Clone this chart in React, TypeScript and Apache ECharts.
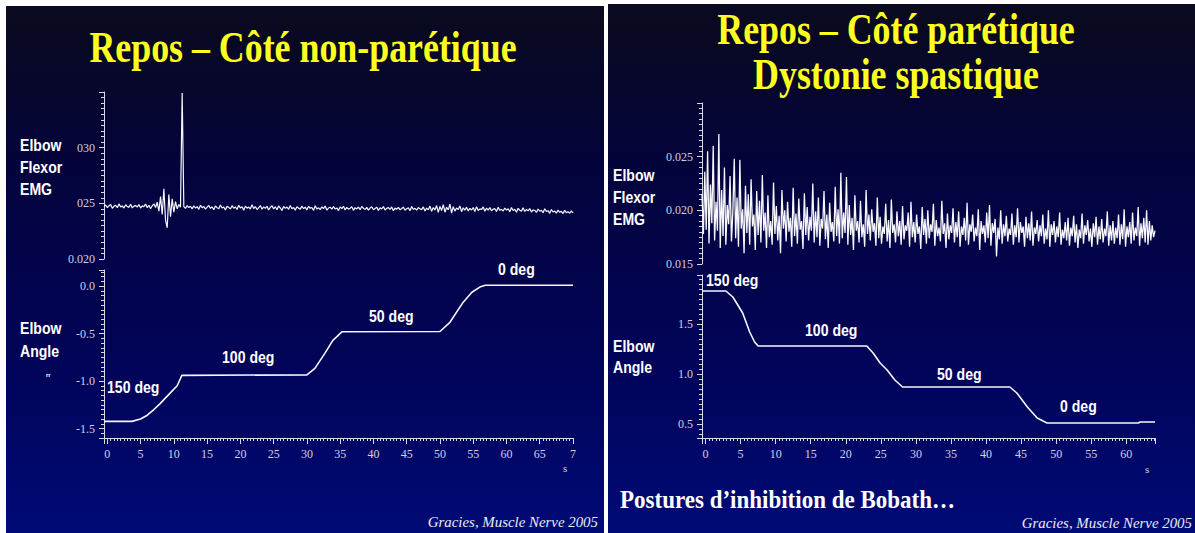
import React, { useEffect, useRef } from 'react';
import * as echarts from 'echarts';

// ---------- DATA ----------
const T0 = -0.5; // time of first EMG sample (s)
const EMG_LEFT_STEP = 0.25; // s between samples
const emgLeft = [
  0.02470, 0.02485, 0.02462, 0.02478, 0.02490, 0.02455, 0.02473, 0.02482, 0.02460, 0.02495, 0.02468, 0.02476, 0.02458, 0.02488, 0.02471, 0.02464, 0.02492, 0.02459, 0.02475, 0.02480,
  0.02466, 0.02489, 0.02457, 0.02477, 0.02470, 0.02494, 0.02461, 0.02483, 0.02452, 0.02478, 0.02496, 0.02463, 0.02510, 0.02430, 0.02560, 0.02400, 0.02630, 0.02350, 0.02280, 0.02580,
  0.02380, 0.02540, 0.02420, 0.02515, 0.02450, 0.02490, 0.02465, 0.03490, 0.02470, 0.02455, 0.02480, 0.02462, 0.02474, 0.02450, 0.02478, 0.02458, 0.02470, 0.02446, 0.02482, 0.02460,
  0.02472, 0.02448, 0.02466, 0.02480, 0.02455, 0.02469, 0.02442, 0.02476, 0.02461, 0.02452, 0.02485, 0.02458, 0.02467, 0.02440, 0.02474, 0.02463, 0.02450, 0.02479, 0.02456, 0.02468,
  0.02445, 0.02482, 0.02459, 0.02470, 0.02438, 0.02475, 0.02457, 0.02466, 0.02449, 0.02488, 0.02453, 0.02471, 0.02444, 0.02462, 0.02480, 0.02447, 0.02468, 0.02455, 0.02473, 0.02441,
  0.02464, 0.02478, 0.02450, 0.02469, 0.02443, 0.02476, 0.02458, 0.02436, 0.02472, 0.02455, 0.02467, 0.02446, 0.02481, 0.02452, 0.02463, 0.02439, 0.02470, 0.02457, 0.02448, 0.02475,
  0.02451, 0.02466, 0.02440, 0.02473, 0.02456, 0.02462, 0.02437, 0.02478, 0.02449, 0.02460, 0.02444, 0.02469, 0.02453, 0.02476, 0.02438, 0.02458, 0.02465, 0.02447, 0.02471, 0.02450,
  0.02459, 0.02435, 0.02468, 0.02452, 0.02474, 0.02441, 0.02463, 0.02448, 0.02456, 0.02470, 0.02437, 0.02461, 0.02450, 0.02467, 0.02443, 0.02472, 0.02454, 0.02446, 0.02464, 0.02439,
  0.02458, 0.02469, 0.02442, 0.02453, 0.02466, 0.02436, 0.02460, 0.02449, 0.02471, 0.02440, 0.02455, 0.02462, 0.02445, 0.02468, 0.02434, 0.02457, 0.02448, 0.02463, 0.02441, 0.02454,
  0.02466, 0.02438, 0.02452, 0.02460, 0.02433, 0.02471, 0.02446, 0.02455, 0.02439, 0.02463, 0.02450, 0.02444, 0.02468, 0.02431, 0.02457, 0.02442, 0.02475, 0.02428, 0.02462, 0.02440,
  0.02480, 0.02418, 0.02472, 0.02435, 0.02488, 0.02420, 0.02465, 0.02441, 0.02492, 0.02412, 0.02470, 0.02430, 0.02458, 0.02445, 0.02476, 0.02425, 0.02460, 0.02438, 0.02466, 0.02432,
  0.02455, 0.02440, 0.02463, 0.02427, 0.02470, 0.02436, 0.02450, 0.02444, 0.02468, 0.02429, 0.02457, 0.02439, 0.02462, 0.02433, 0.02448, 0.02452, 0.02426, 0.02465, 0.02437, 0.02446,
  0.02431, 0.02458, 0.02440, 0.02452, 0.02424, 0.02463, 0.02435, 0.02447, 0.02420, 0.02455, 0.02438, 0.02430, 0.02460, 0.02427, 0.02444, 0.02433, 0.02453, 0.02422, 0.02441, 0.02436,
  0.02418, 0.02449, 0.02429, 0.02438, 0.02415, 0.02452, 0.02426, 0.02434, 0.02410, 0.02445, 0.02422, 0.02431, 0.02412, 0.02440, 0.02419, 0.02428, 0.02408, 0.02437, 0.02416, 0.02425,
  0.02411, 0.02432, 0.02414,
];

const EMG_RIGHT_STEP = 0.2;
const emgRight = [
  0.0215, 0.0178, 0.0236, 0.0182, 0.0255, 0.0169, 0.0224, 0.0188, 0.0260, 0.0172, 0.0208, 0.0181, 0.0271, 0.0165, 0.0219, 0.0176, 0.0240, 0.0168, 0.0205, 0.0187,
  0.0232, 0.0171, 0.0199, 0.0248, 0.0174, 0.0212, 0.0166, 0.0247, 0.0183, 0.0201, 0.0160, 0.0223, 0.0179, 0.0215, 0.0168, 0.0229, 0.0185, 0.0196, 0.0163, 0.0218,
  0.0177, 0.0209, 0.0170, 0.0233, 0.0181, 0.0198, 0.0165, 0.0214, 0.0175, 0.0190, 0.0168, 0.0226, 0.0178, 0.0204, 0.0172, 0.0195, 0.0160, 0.0219, 0.0183, 0.0200,
  0.0171, 0.0208, 0.0180, 0.0193, 0.0166, 0.0221, 0.0176, 0.0197, 0.0169, 0.0211, 0.0182, 0.0190, 0.0164, 0.0216, 0.0177, 0.0203, 0.0172, 0.0194, 0.0181, 0.0225,
  0.0170, 0.0199, 0.0175, 0.0212, 0.0167, 0.0192, 0.0183, 0.0218, 0.0173, 0.0196, 0.0165, 0.0207, 0.0180, 0.0189, 0.0171, 0.0222, 0.0176, 0.0201, 0.0169, 0.0235,
  0.0174, 0.0198, 0.0179, 0.0231, 0.0168, 0.0205, 0.0177, 0.0193, 0.0163, 0.0214, 0.0181, 0.0190, 0.0170, 0.0209, 0.0175, 0.0187, 0.0166, 0.0219, 0.0178, 0.0196,
  0.0172, 0.0201, 0.0180, 0.0188, 0.0167, 0.0212, 0.0174, 0.0194, 0.0169, 0.0185, 0.0178, 0.0206, 0.0171, 0.0191, 0.0165, 0.0210, 0.0179, 0.0187, 0.0170, 0.0199,
  0.0176, 0.0190, 0.0168, 0.0204, 0.0173, 0.0186, 0.0181, 0.0198, 0.0166, 0.0208, 0.0175, 0.0189, 0.0170, 0.0196, 0.0178, 0.0185, 0.0164, 0.0203, 0.0177, 0.0192,
  0.0169, 0.0200, 0.0174, 0.0187, 0.0180, 0.0206, 0.0167, 0.0191, 0.0176, 0.0184, 0.0171, 0.0209, 0.0178, 0.0188, 0.0165, 0.0197, 0.0173, 0.0186, 0.0179, 0.0202,
  0.0170, 0.0189, 0.0175, 0.0199, 0.0166, 0.0185, 0.0177, 0.0193, 0.0172, 0.0207, 0.0168, 0.0187, 0.0180, 0.0196, 0.0171, 0.0184, 0.0176, 0.0201, 0.0163, 0.0190,
  0.0178, 0.0186, 0.0170, 0.0198, 0.0174, 0.0205, 0.0167, 0.0188, 0.0179, 0.0192, 0.0157, 0.0184, 0.0173, 0.0200, 0.0169, 0.0187, 0.0176, 0.0195, 0.0171, 0.0183,
  0.0177, 0.0197, 0.0168, 0.0186, 0.0175, 0.0202, 0.0170, 0.0189, 0.0179, 0.0185, 0.0166, 0.0194, 0.0174, 0.0188, 0.0172, 0.0199, 0.0167, 0.0184, 0.0178, 0.0191,
  0.0171, 0.0186, 0.0176, 0.0196, 0.0169, 0.0183, 0.0173, 0.0200, 0.0166, 0.0187, 0.0177, 0.0190, 0.0170, 0.0185, 0.0175, 0.0198, 0.0168, 0.0182, 0.0174, 0.0189,
  0.0172, 0.0193, 0.0167, 0.0184, 0.0176, 0.0195, 0.0170, 0.0187, 0.0165, 0.0182, 0.0174, 0.0197, 0.0169, 0.0186, 0.0177, 0.0191, 0.0171, 0.0183, 0.0166, 0.0188,
  0.0175, 0.0194, 0.0168, 0.0185, 0.0173, 0.0192, 0.0170, 0.0183, 0.0176, 0.0199, 0.0167, 0.0186, 0.0172, 0.0190, 0.0169, 0.0184, 0.0174, 0.0196, 0.0168, 0.0187,
  0.0173, 0.0201, 0.0166, 0.0185, 0.0175, 0.0189, 0.0169, 0.0198, 0.0172, 0.0184, 0.0176, 0.0203, 0.0167, 0.0188, 0.0174, 0.0193, 0.0170, 0.0200, 0.0168, 0.0190,
  0.0172, 0.0186, 0.0175, 0.0181,
];

// Elbow angle traces: [time (s), angle (rad)]
const angleLeft: [number, number][] = [
  [-0.5, -1.425], [3.7, -1.425], [5.0, -1.40], [6.0, -1.36], [7.0, -1.30], [7.9, -1.24], [9.4, -1.13], [10.5, -1.05], [11.2, -0.94],
  [30.0, -0.935], [31.2, -0.866], [32.7, -0.708], [33.9, -0.571], [35.3, -0.48],
  [50.0, -0.478], [51.5, -0.381], [53.5, -0.169], [54.8, -0.064], [56.0, -0.01], [56.8, 0.01],
  [70.0, 0.01],
];
const angleRight: [number, number][] = [
  [-0.5, 1.83], [2.9, 1.83], [3.9, 1.77], [5.3, 1.61], [6.3, 1.42], [7.0, 1.32], [7.5, 1.28],
  [23.0, 1.28], [23.9, 1.21], [24.9, 1.11], [25.9, 1.04], [27.0, 0.94], [28.1, 0.87],
  [43.4, 0.87], [44.4, 0.81], [45.9, 0.67], [47.3, 0.56], [48.7, 0.51],
  [61.7, 0.51], [62.0, 0.52], [64.1, 0.52],
];

const leftEmgTickValues = [0.02, 0.025, 0.03];
const leftEmgTickLabels = ['0.020', '025', '030'];
const leftXLastTick = 70;
const leftXLastLabel = '7';

const degLabels = ['150 deg', '100 deg', '50 deg', '0 deg'];

// ---------- STYLE ----------
const AXIS = '#d8d8e8';
const LABEL = '#d0d0e0';
const TRACE = '#f6f6fc';
const SERIF = 'Liberation Serif';
const SANS = 'Liberation Sans';

function App() {
  const ref = useRef<HTMLDivElement>(null);
  useEffect(() => {
    if (!ref.current) return;
    const chart = echarts.init(ref.current, undefined, { renderer: 'svg' });

    const bg = () =>
      new echarts.graphic.LinearGradient(0, 0, 0, 1, [
        { offset: 0, color: '#0a0a1e' },
        { offset: 0.3, color: '#03033b' },
        { offset: 0.7, color: '#01045a' },
        { offset: 1, color: '#000a76' },
      ]);

    const txt = (
      text: string, x: number, y: number,
      o: { size: number; family?: string; weight?: string; style?: string; fill?: string; align?: string; sx?: number }
    ) => ({
      type: 'text', x, y, scaleX: o.sx ?? 1, z: 100,
      style: {
        text, fill: o.fill ?? '#ffffff', fontSize: o.size, fontFamily: o.family ?? SANS,
        fontWeight: o.weight ?? 'normal', fontStyle: o.style ?? 'normal',
        textAlign: o.align ?? 'left', textVerticalAlign: 'middle',
      },
    });

    const sideLabel = (t: string, x: number, y: number) => txt(t, x, y, { size: 16, weight: 'bold', sx: 0.88 });

    const axisLineCfg = { show: true, onZero: false, lineStyle: { color: AXIS, width: 1 } };
    const tickCfg = { show: true, inside: false, length: 6, lineStyle: { color: AXIS } };
    const minorCfg = { show: true, splitNumber: 10, length: 3, lineStyle: { color: AXIS } };
    const labelBase = { color: LABEL, fontFamily: SERIF, fontSize: 12 };

    const xAx = (gridIndex: number, max: number, splitNumber: number, show: boolean, fmt?: (v: number) => string) => ({
      type: 'value', gridIndex, min: T0, max, splitNumber, show,
      axisLine: axisLineCfg, axisTick: tickCfg, minorTick: minorCfg, splitLine: { show: false },
      axisLabel: { ...labelBase, margin: 10, showMinLabel: false, formatter: fmt },
    });

    const option: any = {
      animation: false,
      backgroundColor: '#ffffff',
      grid: [
        { left: 104, top: 92, width: 469, height: 167 },
        { left: 104, top: 270, width: 469, height: 168 },
        { left: 702, top: 103, width: 453, height: 161 },
        { left: 702, top: 275, width: 453, height: 163 },
      ],
      xAxis: [
        xAx(0, leftXLastTick, 14, false),
        xAx(1, leftXLastTick, 14, true, (v: number) => (v === leftXLastTick ? leftXLastLabel : String(v))),
        xAx(2, 64.1, 13, false),
        { ...xAx(3, 64.1, 13, true, (v: number) => String(v)), axisLabel: { ...labelBase, margin: 10, showMinLabel: false, showMaxLabel: false } },
      ],
      yAxis: [
        {
          type: 'value', gridIndex: 0, min: 0.02, max: 0.035, interval: 0.005,
          axisLine: axisLineCfg, axisTick: { ...tickCfg, length: 5 }, minorTick: minorCfg, splitLine: { show: false },
          axisLabel: {
            ...labelBase, margin: 9, showMaxLabel: false,
            formatter: (v: number) => {
              const i = leftEmgTickValues.findIndex((t) => Math.abs(t - v) < 1e-6);
              return i >= 0 ? leftEmgTickLabels[i] : '';
            },
          },
        },
        {
          type: 'value', gridIndex: 1, min: -1.6, max: 0.17, splitNumber: 4,
          axisLine: axisLineCfg, axisTick: { ...tickCfg, length: 5 }, minorTick: minorCfg, splitLine: { show: false },
          axisLabel: { ...labelBase, margin: 9, showMinLabel: false, showMaxLabel: false, formatter: (v: number) => v.toFixed(1) },
        },
        {
          type: 'value', gridIndex: 2, min: 0.015, max: 0.03, interval: 0.005,
          axisLine: axisLineCfg, axisTick: { ...tickCfg, length: 5 }, minorTick: minorCfg, splitLine: { show: false },
          axisLabel: { ...labelBase, margin: 9, showMaxLabel: false, formatter: (v: number) => v.toFixed(3) },
        },
        {
          type: 'value', gridIndex: 3, min: 0.36, max: 1.99, splitNumber: 4,
          axisLine: axisLineCfg, axisTick: { ...tickCfg, length: 5 }, minorTick: minorCfg, splitLine: { show: false },
          axisLabel: { ...labelBase, margin: 9, showMinLabel: false, showMaxLabel: false, formatter: (v: number) => v.toFixed(1) },
        },
      ],
      series: [
        {
          type: 'line', xAxisIndex: 0, yAxisIndex: 0, showSymbol: false, silent: true,
          data: emgLeft.map((v, i) => [T0 + i * EMG_LEFT_STEP, v]),
          lineStyle: { color: TRACE, width: 1.2 },
        },
        {
          type: 'line', xAxisIndex: 1, yAxisIndex: 1, showSymbol: false, silent: true,
          data: angleLeft, lineStyle: { color: TRACE, width: 1.6 },
        },
        {
          type: 'line', xAxisIndex: 2, yAxisIndex: 2, showSymbol: false, silent: true,
          data: emgRight.map((v, i) => [T0 + i * EMG_RIGHT_STEP, v]),
          lineStyle: { color: TRACE, width: 1.3 },
        },
        {
          type: 'line', xAxisIndex: 3, yAxisIndex: 3, showSymbol: false, silent: true,
          data: angleRight, lineStyle: { color: TRACE, width: 1.6 },
        },
      ],
      graphic: [
        { type: 'rect', z: -100, shape: { x: 6, y: 6, width: 598, height: 527 }, style: { fill: bg() } },
        { type: 'rect', z: -100, shape: { x: 608, y: 4, width: 587, height: 529 }, style: { fill: bg() } },

        txt('Repos – Côté non-parétique', 303, 47, { size: 44, family: SERIF, weight: 'bold', fill: '#ffff1e', align: 'center', sx: 0.815 }),
        txt('Repos – Côté parétique', 896, 29, { size: 44, family: SERIF, weight: 'bold', fill: '#ffff1e', align: 'center', sx: 0.815 }),
        txt('Dystonie spastique', 896, 74, { size: 44, family: SERIF, weight: 'bold', fill: '#ffff1e', align: 'center', sx: 0.815 }),

        sideLabel('Elbow', 20, 145), sideLabel('Flexor', 20, 167), sideLabel('EMG', 20, 189),
        sideLabel('Elbow', 20, 328), sideLabel('Angle', 20, 351),
        txt('rr', 46, 375, { size: 6, weight: 'bold' }),
        sideLabel('Elbow', 613, 175), sideLabel('Flexor', 613, 197), sideLabel('EMG', 613, 219),
        sideLabel('Elbow', 613, 346), sideLabel('Angle', 613, 367),

        sideLabel(degLabels[0], 107, 387), sideLabel(degLabels[1], 222, 357),
        sideLabel(degLabels[2], 369, 316), sideLabel(degLabels[3], 498, 269),
        sideLabel(degLabels[0], 706, 280), sideLabel(degLabels[1], 805, 330),
        sideLabel(degLabels[2], 937, 374), sideLabel(degLabels[3], 1060, 406),

        txt('s', 563, 468, { size: 11, family: SERIF, fill: LABEL }),
        txt('s', 1145, 469, { size: 11, family: SERIF, fill: LABEL }),

        txt('Postures d’inhibition de Bobath…', 620, 500, { size: 25, family: SERIF, weight: 'bold', sx: 0.92 }),
        txt('Gracies, Muscle Nerve 2005', 598, 521, { size: 15.5, family: SERIF, style: 'italic', fill: '#ececf4', align: 'right', sx: 0.96 }),
        txt('Gracies, Muscle Nerve 2005', 1192, 522, { size: 15.5, family: SERIF, style: 'italic', fill: '#ececf4', align: 'right', sx: 0.96 }),
      ],
    };

    chart.setOption(option);
    return () => chart.dispose();
  }, []);

  return (
    <div
      ref={ref}
      style={{ position: 'fixed', left: 0, top: 0, width: 1195, height: 533, background: '#ffffff' }}
    />
  );
}

export default App;
